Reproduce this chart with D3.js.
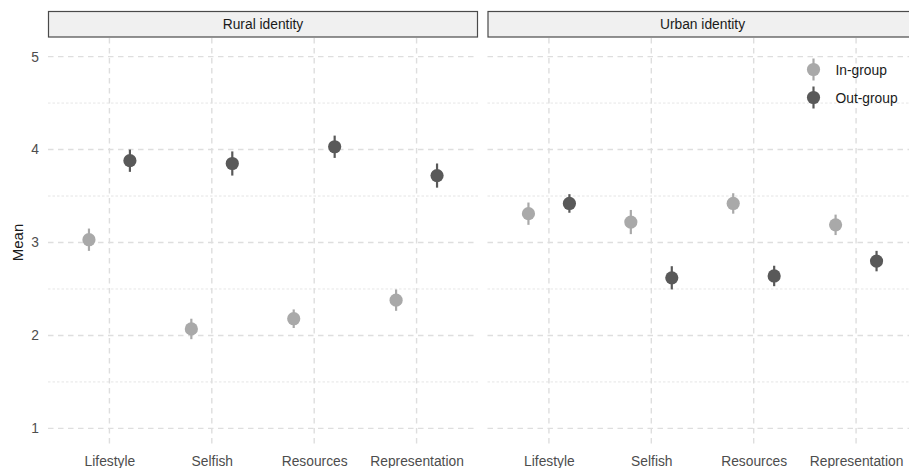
<!DOCTYPE html>
<html>
<head>
<meta charset="utf-8">
<script src="https://cdn.jsdelivr.net/npm/d3@7"></script>
<style>
  html, body { margin: 0; padding: 0; background: #ffffff; }
  svg { display: block; font-family: "Liberation Sans", Arial, sans-serif; }
</style>
</head>
<body>
<svg id="chart" width="909" height="468"></svg>
<script>
// Items on the x axis, facets and groups
const categories = ["Lifestyle", "Selfish", "Resources", "Representation"];
const identities = ["Rural identity", "Urban identity"];
const groups = ["In-group", "Out-group"];
const yTicks = [1, 2, 3, 4, 5];

// Means and error half-widths, in category order
const ruralInMean  = [3.03, 2.07, 2.18, 2.38];
const ruralInErr   = [0.12, 0.11, 0.10, 0.115];
const ruralOutMean = [3.88, 3.85, 4.03, 3.72];
const ruralOutErr  = [0.12, 0.13, 0.12, 0.13];
const urbanInMean  = [3.31, 3.22, 3.42, 3.19];
const urbanInErr   = [0.12, 0.13, 0.11, 0.11];
const urbanOutMean = [3.42, 2.62, 2.64, 2.80];
const urbanOutErr  = [0.10, 0.125, 0.11, 0.11];

const panelMeans = [[ruralInMean, ruralOutMean], [urbanInMean, urbanOutMean]];
const panelErrs  = [[ruralInErr, ruralOutErr], [urbanInErr, urbanOutErr]];

const colors = { "In-group": "#a9a9a9", "Out-group": "#595959" };

const svg = d3.select("#chart");
const plotTop = 38, plotBottom = 447;
const panelW = 430;
const panelX = [48, 487.5];

const y = d3.scaleLinear().domain([0.8, 5.2]).range([plotBottom, plotTop]);
const color = d3.scaleOrdinal().domain(groups).range(groups.map(g => colors[g]));

const gridColor = "#dedede";
const tickFont = "13.8px";

identities.forEach((ident, p) => {
  const x0 = panelX[p];
  const x = d3.scalePoint().domain(categories).range([x0, x0 + panelW]).padding(0.6);
  const g = svg.append("g");

  // minor horizontal grid (half steps)
  g.selectAll("line.minor").data(d3.range(1.5, 5, 1)).join("line")
    .attr("class", "minor")
    .attr("x1", x0).attr("x2", x0 + panelW)
    .attr("y1", d => y(d)).attr("y2", d => y(d))
    .attr("stroke", gridColor).attr("stroke-width", 0.8)
    .attr("stroke-dasharray", "2.5,2");

  // major horizontal grid
  g.selectAll("line.major").data(yTicks).join("line")
    .attr("class", "major")
    .attr("x1", x0).attr("x2", x0 + panelW)
    .attr("y1", d => y(d)).attr("y2", d => y(d))
    .attr("stroke", gridColor).attr("stroke-width", 1.4)
    .attr("stroke-dasharray", "5.5,4.5");

  // vertical grid at categories
  g.selectAll("line.vgrid").data(categories).join("line")
    .attr("class", "vgrid")
    .attr("x1", d => x(d)).attr("x2", d => x(d))
    .attr("y1", plotTop).attr("y2", plotBottom)
    .attr("stroke", gridColor).attr("stroke-width", 1.4)
    .attr("stroke-dasharray", "5.5,4.5");

  // strip header
  svg.append("rect")
    .attr("x", x0 + 0.5).attr("y", 11.5)
    .attr("width", panelW - 1).attr("height", 25.5)
    .attr("fill", "#f0f0f0").attr("stroke", "#4a4a4a").attr("stroke-width", 1.2);
  svg.append("text")
    .attr("x", x0 + panelW / 2).attr("y", 29)
    .attr("text-anchor", "middle")
    .attr("font-size", tickFont).attr("fill", "#1a1a1a")
    .text(ident);

  // x axis labels
  const xAxis = d3.axisBottom(x).tickSize(0).tickPadding(0);
  const ax = svg.append("g").attr("transform", `translate(0,${plotBottom + 6})`).call(xAxis);
  ax.select(".domain").remove();
  ax.selectAll("text").attr("font-size", tickFont).attr("fill", "#4d4d4d")
    .attr("font-family", "Liberation Sans, Arial, sans-serif").attr("dy", "0.95em");

  // points with error bars
  const dodge = x.step() * 0.2;
  groups.forEach((grp, gi) => {
    const means = panelMeans[p][gi];
    const errs = panelErrs[p][gi];
    const data = categories.map((c, i) => ({ c, m: means[i], e: errs[i] }));
    const off = gi === 0 ? -dodge : dodge;
    g.selectAll(`line.err${gi}`).data(data).join("line")
      .attr("class", `err${gi}`)
      .attr("x1", d => x(d.c) + off).attr("x2", d => x(d.c) + off)
      .attr("y1", d => y(d.m - d.e)).attr("y2", d => y(d.m + d.e))
      .attr("stroke", color(grp)).attr("stroke-width", 2.2);
    g.selectAll(`circle.pt${gi}`).data(data).join("circle")
      .attr("class", `pt${gi}`)
      .attr("cx", d => x(d.c) + off).attr("cy", d => y(d.m))
      .attr("r", 6.6).attr("fill", color(grp));
  });
});

// y axis labels
const yAxis = d3.axisLeft(y).tickValues(yTicks).tickSize(0).tickPadding(0).tickFormat(d3.format("d"));
const ay = svg.append("g").attr("transform", `translate(39,0)`).call(yAxis);
ay.select(".domain").remove();
ay.selectAll("text").attr("font-size", tickFont).attr("fill", "#4d4d4d")
  .attr("font-family", "Liberation Sans, Arial, sans-serif");

svg.append("text")
  .attr("transform", `translate(23,${y(3)}) rotate(-90)`)
  .attr("text-anchor", "middle")
  .attr("font-size", "15px").attr("fill", "#1a1a1a")
  .text("Mean");

// legend
const legend = svg.append("g");
groups.forEach((grp, i) => {
  const ly = 69.5 + i * 28;
  legend.append("line")
    .attr("x1", 813.5).attr("x2", 813.5).attr("y1", ly - 11).attr("y2", ly + 11)
    .attr("stroke", color(grp)).attr("stroke-width", 2.2);
  legend.append("circle")
    .attr("cx", 813.5).attr("cy", ly).attr("r", 6.6).attr("fill", color(grp));
  legend.append("text")
    .attr("x", 835.5).attr("y", ly + 5)
    .attr("font-size", tickFont).attr("fill", "#1a1a1a")
    .text(grp);
});
</script>
</body>
</html>
